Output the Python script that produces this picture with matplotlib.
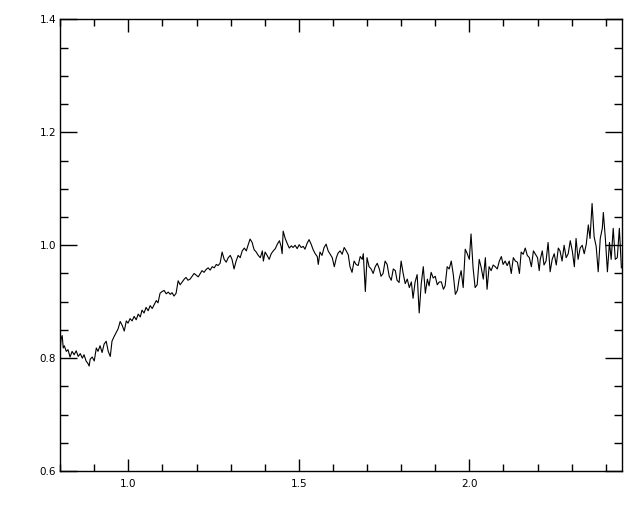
import matplotlib
matplotlib.use("Agg")
import matplotlib.pyplot as plt
from matplotlib.ticker import MultipleLocator

# wavelength (micron) and normalised flux
wave = [
    0.800, 0.803, 0.806, 0.809, 0.812, 0.818, 0.823, 0.829, 0.835, 0.841,
    0.847, 0.853, 0.859, 0.865, 0.870, 0.876, 0.882, 0.885, 0.888, 0.894,
    0.900, 0.906, 0.911, 0.917, 0.923, 0.929, 0.935, 0.941, 0.947, 0.952,
    0.958, 0.964, 0.970, 0.976, 0.982, 0.988, 0.994, 0.999, 1.005, 1.011,
    1.017, 1.023, 1.029, 1.035, 1.040, 1.046, 1.052, 1.058, 1.064, 1.070,
    1.076, 1.082, 1.087, 1.093, 1.099, 1.105, 1.111, 1.117, 1.123, 1.128,
    1.134, 1.140, 1.146, 1.152, 1.158, 1.164, 1.169, 1.175, 1.181, 1.187,
    1.193, 1.199, 1.205, 1.211, 1.216, 1.222, 1.228, 1.234, 1.240, 1.246,
    1.252, 1.258, 1.263, 1.269, 1.275, 1.281, 1.287, 1.293, 1.299, 1.304,
    1.310, 1.316, 1.322, 1.328, 1.334, 1.340, 1.346, 1.352, 1.357, 1.363,
    1.366, 1.369, 1.375, 1.381, 1.387, 1.393, 1.396, 1.401, 1.407, 1.413,
    1.419, 1.425, 1.431, 1.437, 1.443, 1.448, 1.451, 1.454, 1.460, 1.466,
    1.472, 1.478, 1.483, 1.489, 1.495, 1.501, 1.507, 1.513, 1.518, 1.524,
    1.530, 1.536, 1.542, 1.548, 1.554, 1.557, 1.562, 1.568, 1.574, 1.580,
    1.586, 1.592, 1.598, 1.604, 1.610, 1.615, 1.621, 1.627, 1.633, 1.639,
    1.645, 1.650, 1.656, 1.662, 1.668, 1.674, 1.680, 1.686, 1.689, 1.695,
    1.700, 1.706, 1.712, 1.718, 1.724, 1.730, 1.736, 1.741, 1.747, 1.753,
    1.759, 1.765, 1.771, 1.777, 1.783, 1.788, 1.794, 1.800, 1.806, 1.812,
    1.818, 1.824, 1.830, 1.835, 1.841, 1.847, 1.853, 1.859, 1.865, 1.871,
    1.877, 1.882, 1.888, 1.894, 1.900, 1.906, 1.912, 1.918, 1.924, 1.929,
    1.935, 1.941, 1.947, 1.953, 1.959, 1.965, 1.970, 1.976, 1.982, 1.988,
    1.994, 2.000, 2.005, 2.011, 2.017, 2.023, 2.029, 2.035, 2.041, 2.047,
    2.052, 2.058, 2.064, 2.070, 2.076, 2.082, 2.088, 2.094, 2.099, 2.105,
    2.111, 2.117, 2.123, 2.129, 2.135, 2.141, 2.147, 2.152, 2.158, 2.164,
    2.170, 2.176, 2.182, 2.188, 2.194, 2.200, 2.205, 2.208, 2.214, 2.219,
    2.225, 2.231, 2.237, 2.243, 2.249, 2.255, 2.261, 2.266, 2.272, 2.278,
    2.284, 2.290, 2.296, 2.302, 2.308, 2.313, 2.319, 2.325, 2.331, 2.337,
    2.343, 2.349, 2.354, 2.360, 2.366, 2.372, 2.378, 2.384, 2.390, 2.393,
    2.399, 2.405, 2.411, 2.416, 2.422, 2.428, 2.434, 2.440, 2.446,
]

flux = [
    0.815, 0.835, 0.840, 0.818, 0.822, 0.812, 0.815, 0.802, 0.812, 0.806,
    0.813, 0.803, 0.808, 0.800, 0.806, 0.795, 0.790, 0.786, 0.798, 0.802,
    0.795, 0.818, 0.812, 0.822, 0.810, 0.825, 0.830, 0.812, 0.803, 0.830,
    0.838, 0.845, 0.852, 0.865, 0.858, 0.848, 0.866, 0.862, 0.870, 0.866,
    0.874, 0.868, 0.878, 0.873, 0.885, 0.880, 0.890, 0.884, 0.893, 0.888,
    0.895, 0.902, 0.898, 0.915, 0.918, 0.920, 0.914, 0.917, 0.913, 0.916,
    0.910, 0.915, 0.937, 0.930, 0.935, 0.940, 0.943, 0.938, 0.940, 0.945,
    0.950, 0.947, 0.944, 0.950, 0.955, 0.952, 0.957, 0.960, 0.956, 0.962,
    0.960, 0.966, 0.964, 0.968, 0.988, 0.975, 0.970, 0.978, 0.982, 0.975,
    0.958, 0.972, 0.982, 0.978, 0.990, 0.995, 0.990, 1.002, 1.011, 1.005,
    0.998, 0.992, 0.988, 0.982, 0.978, 0.990, 0.972, 0.988, 0.982, 0.975,
    0.985, 0.990, 0.994, 1.002, 1.008, 0.998, 0.985, 1.025, 1.012, 1.003,
    0.995, 0.999, 0.996, 1.000, 0.994, 1.001, 0.996, 0.998, 0.993, 1.003,
    1.010, 1.002, 0.992, 0.985, 0.980, 0.966, 0.988, 0.982, 0.996, 1.002,
    0.990, 0.984, 0.978, 0.962, 0.978, 0.986, 0.990, 0.984, 0.996, 0.990,
    0.983, 0.962, 0.952, 0.972, 0.966, 0.964, 0.980, 0.975, 0.985, 0.918,
    0.978, 0.962, 0.958, 0.950, 0.962, 0.968, 0.958, 0.945, 0.950, 0.972,
    0.966, 0.945, 0.938, 0.958, 0.955, 0.938, 0.934, 0.972, 0.950, 0.932,
    0.940, 0.925, 0.935, 0.906, 0.935, 0.948, 0.880, 0.932, 0.962, 0.915,
    0.940, 0.928, 0.952, 0.942, 0.945, 0.930, 0.935, 0.935, 0.922, 0.928,
    0.962, 0.958, 0.972, 0.948, 0.913, 0.920, 0.940, 0.955, 0.925, 0.993,
    0.985, 0.975, 1.020, 0.960, 0.925, 0.930, 0.975, 0.960, 0.940, 0.978,
    0.922, 0.962, 0.955, 0.965, 0.962, 0.958, 0.972, 0.980, 0.966, 0.972,
    0.964, 0.972, 0.950, 0.978, 0.972, 0.970, 0.950, 0.988, 0.984, 0.995,
    0.982, 0.978, 0.962, 0.990, 0.984, 0.978, 0.955, 0.975, 0.990, 0.965,
    0.972, 1.005, 0.953, 0.975, 0.985, 0.965, 0.995, 0.990, 0.972, 1.000,
    0.978, 0.985, 1.008, 0.990, 0.962, 1.012, 0.975, 0.995, 1.000, 0.985,
    1.002, 1.036, 1.012, 1.074, 1.015, 0.998, 0.953, 1.012, 1.030, 1.058,
    1.012, 0.953, 1.005, 0.975, 1.030, 0.975, 0.978, 1.030, 0.960,
]

x_range = (0.8, 2.448)
y_range = (0.6, 1.4)

fig = plt.figure(figsize=(6.4, 5.12), dpi=100)
ax = fig.add_axes([0.094, 0.080, 0.878, 0.882])

ax.plot(wave, flux, color="black", linewidth=0.8)

ax.set_xlim(*x_range)
ax.set_ylim(*y_range)

# IDL style ticks: inward on all four sides
ax.xaxis.set_major_locator(MultipleLocator(0.5))
ax.xaxis.set_minor_locator(MultipleLocator(0.1))
ax.yaxis.set_major_locator(MultipleLocator(0.2))
ax.yaxis.set_minor_locator(MultipleLocator(0.05))
ax.tick_params(axis="x", which="major", direction="in", length=9, width=1,
               top=True, bottom=True, labelsize=7.5, pad=6)
ax.tick_params(axis="x", which="minor", direction="in", length=5, width=1,
               top=True, bottom=True)
ax.tick_params(axis="y", which="major", direction="in", length=12, width=1,
               left=True, right=True, labelsize=7.5, pad=3)
ax.tick_params(axis="y", which="minor", direction="in", length=6, width=1,
               left=True, right=True)
ax.xaxis.set_major_formatter(plt.FormatStrFormatter("%.1f"))
ax.yaxis.set_major_formatter(plt.FormatStrFormatter("%.1f"))

for s in ax.spines.values():
    s.set_linewidth(1)

fig.savefig("out.png", dpi=100)
